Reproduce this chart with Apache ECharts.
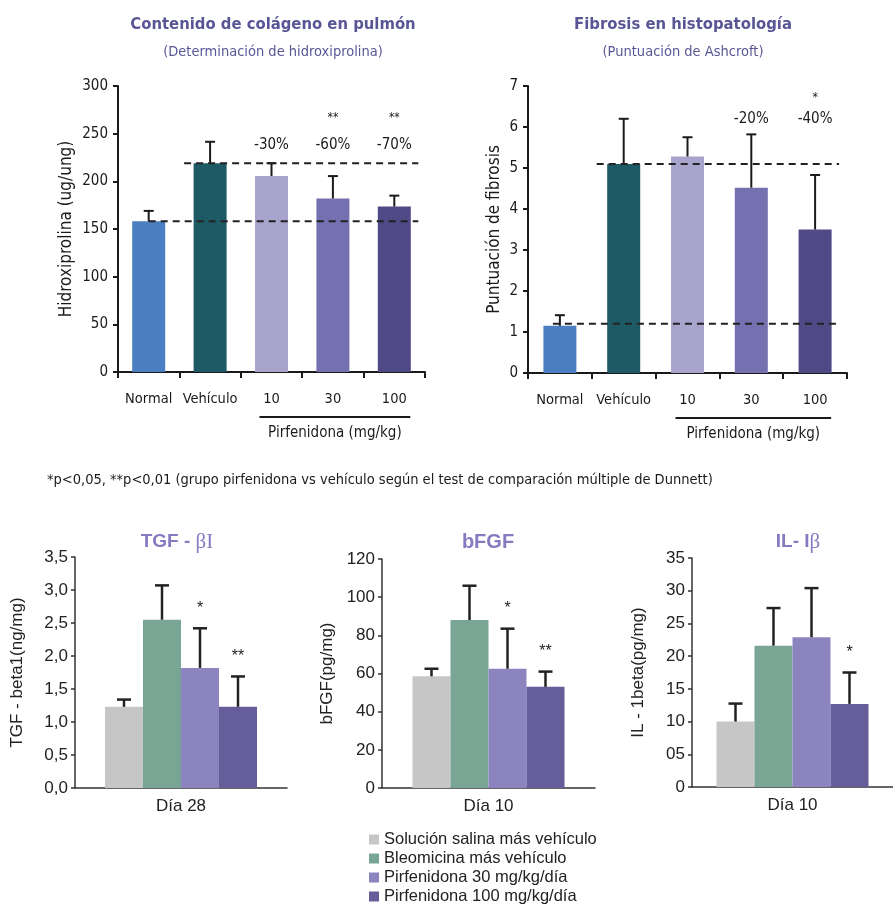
<!DOCTYPE html>
<html><head><meta charset="utf-8">
<script src="https://cdn.jsdelivr.net/npm/echarts@6/dist/echarts.min.js"></script>
<style>html,body{margin:0;padding:0;background:#fff}#c{width:893px;height:904px}</style>
</head><body><div id="c"></div>
<script>
// ---------- data ----------
const topCats = ['Normal', 'Vehículo', '10', '30', '100'];
const topColors = ['#4a7fc2', '#1e5966', '#a8a4cc', '#7570b0', '#4f4a86'];
const pirfLabel = 'Pirfenidona (mg/kg)';

const collagenMean = [158, 219, 205.5, 182, 173.5];
const collagenErrTop = [169, 241.5, 219, 205.5, 185];
const collagenPct = ['', '', '-30%', '-60%', '-70%'];
const collagenSig = ['', '', '', '**', '**'];
const collagenRef = [219, 158];

const ashMean = [1.15, 5.1, 5.28, 4.52, 3.5];
const ashErrTop = [1.41, 6.2, 5.75, 5.82, 4.83];
const ashPct = ['', '', '', '-20%', '-40%'];
const ashSig = ['', '', '', '', '*'];
const ashRef = [5.1, 1.2];

const groupNames = ['Solución salina más vehículo', 'Bleomicina más vehículo', 'Pirfenidona 30 mg/kg/día', 'Pirfenidona 100 mg/kg/día'];
const groupColors = ['#c6c6c6', '#79a595', '#8b84bf', '#655e9b'];

const tgfCat = ['Día 28'];
const tgfMean = [1.23, 2.55, 1.82, 1.23];
const tgfErrTop = [1.34, 3.07, 2.42, 1.69];
const tgfSig = ['', '', '*', '**'];
const tgfTicks = ['0,0', '0,5', '1,0', '1,5', '2,0', '2,5', '3,0', '3,5'];

const bfgfCat = ['Día 10'];
const bfgfMean = [58.5, 88, 62.5, 53];
const bfgfErrTop = [62.5, 106, 83.5, 61];
const bfgfSig = ['', '', '*', '**'];
const bfgfTicks = ['0', '20', '40', '60', '80', '100', '120'];

const ilCat = ['Día 10'];
const ilMean = [10, 21.6, 22.9, 12.7];
const ilErrTop = [12.75, 27.35, 30.4, 17.5];
const ilSig = ['', '', '', '*'];
const ilTicks = ['0', '05', '10', '15', '20', '25', '30', '35'];

const footnote = '*p<0,05, **p<0,01 (grupo pirfenidona vs vehículo según el test de comparación múltiple de Dunnett)';

// ---------- styling ----------
const FN = '"DejaVu Sans Condensed", "Liberation Sans", sans-serif';
const FS = '"Liberation Sans", Arial, sans-serif';
const TOPTITLE = '#5a5696';
const BOTTITLE = '#847bc0';
const INK = '#1a1a1a';

const chart = echarts.init(document.getElementById('c'), null, {renderer: 'canvas'});

const grids = [
  {left: 118, top: 86, width: 307, height: 286},
  {left: 528, top: 86, width: 319, height: 287},
  {left: 75, top: 557, width: 212, height: 231},
  {left: 382, top: 559, width: 213, height: 229},
  {left: 692, top: 558, width: 201, height: 229}
];

function topX(gi) {
  return {type: 'category', gridIndex: gi, data: topCats,
    axisLine: {lineStyle: {color: INK, width: 2}},
    axisTick: {show: true, length: 6, lineStyle: {color: INK, width: 2}},
    axisLabel: {fontFamily: FN, fontSize: 14.5, color: INK, margin: 20, interval: 0}};
}
function topY(gi, max, interval, name, gap) {
  return {type: 'value', gridIndex: gi, min: 0, max: max, interval: interval,
    name: name, nameLocation: 'middle', nameGap: gap,
    nameTextStyle: {fontFamily: FN, fontSize: 17, color: INK},
    axisLine: {show: true, lineStyle: {color: INK, width: 2}},
    axisTick: {show: true, length: 5, lineStyle: {color: INK, width: 2}},
    splitLine: {show: false},
    axisLabel: {fontFamily: FN, fontSize: 15, color: INK, margin: 10}};
}
function botX(gi, cats) {
  return {type: 'category', gridIndex: gi, data: cats,
    axisLine: {lineStyle: {color: '#333', width: 1.5}},
    axisTick: {show: false},
    axisLabel: {fontFamily: FS, fontSize: 17, color: '#222', margin: 10}};
}
function botY(gi, max, interval, name, gap, ticks) {
  return {type: 'value', gridIndex: gi, min: 0, max: max, interval: interval,
    name: name, nameLocation: 'middle', nameGap: gap,
    nameTextStyle: {fontFamily: FS, fontSize: 17, color: '#222'},
    axisLine: {show: true, lineStyle: {color: '#333', width: 1.5}},
    axisTick: {show: true, length: 4, lineStyle: {color: '#333', width: 1.5}},
    splitLine: {show: false},
    axisLabel: {fontFamily: FS, fontSize: 17, color: '#222', margin: 7,
      formatter: (v) => ticks[Math.round(v / interval)]}};
}

const series = [];

function addTop(gi, mean, errTop, pct, sig, refs, refStart, pctLevel, sigOffset) {
  series.push({type: 'bar', name: 'top' + gi, xAxisIndex: gi, yAxisIndex: gi, barWidth: 33,
    data: mean.map((v, i) => ({value: v, itemStyle: {color: topColors[i]}}))});
  series.push({type: 'custom', name: 'err' + gi, xAxisIndex: gi, yAxisIndex: gi, z: 3,
    data: mean.map((v, i) => [i, v, errTop[i]]),
    encode: {x: 0, y: [1, 2]},
    renderItem: (p, api) => {
      const i = api.value(0);
      const a = api.coord([i, api.value(1)]);
      const b = api.coord([i, api.value(2)]);
      const st = {stroke: INK, lineWidth: 2};
      return {type: 'group', children: [
        {type: 'line', shape: {x1: a[0], y1: a[1], x2: b[0], y2: b[1]}, style: st},
        {type: 'line', shape: {x1: b[0] - 5, y1: b[1], x2: b[0] + 5, y2: b[1]}, style: st}
      ]};
    }});
  series.push({type: 'custom', name: 'ref' + gi, xAxisIndex: gi, yAxisIndex: gi, z: 4,
    data: refs.map((v, k) => [k === 0 ? 1 : 0, v]),
    encode: {x: 0, y: 1},
    renderItem: (p, api) => {
      const a = api.coord([api.value(0), api.value(1)]);
      const e = api.coord([topCats.length - 1, api.value(1)]);
      return {type: 'line', shape: {x1: a[0] + refStart[p.dataIndex], y1: a[1], x2: e[0] + 24, y2: a[1]},
        style: {stroke: '#222', lineWidth: 2, lineDash: [7, 5]}};
    }});
  series.push({type: 'custom', name: 'ann' + gi, xAxisIndex: gi, yAxisIndex: gi, z: 5,
    data: mean.map((v, i) => [i, pctLevel]),
    encode: {x: 0, y: 1},
    renderItem: (p, api) => {
      const c = api.coord([api.value(0), api.value(1)]);
      return {type: 'group', children: [
        {type: 'text', style: {text: pct[p.dataIndex], x: c[0], y: c[1], align: 'center', verticalAlign: 'middle',
          font: '15px ' + FN, fill: INK}},
        {type: 'text', style: {text: sig[p.dataIndex], x: c[0], y: c[1] - sigOffset, align: 'center', verticalAlign: 'middle',
          font: '12px ' + FN, fill: INK}}
      ]};
    }});
  series.push({type: 'custom', name: 'brk' + gi, xAxisIndex: gi, yAxisIndex: gi, z: 5,
    data: [[3, 0]], encode: {x: 0, y: 1},
    renderItem: (p, api) => {
      const s = api.coord([2, 0]);
      const m = api.coord([3, 0]);
      const e = api.coord([4, 0]);
      return {type: 'group', children: [
        {type: 'line', shape: {x1: s[0] - 12, y1: s[1] + 45, x2: e[0] + 16, y2: s[1] + 45}, style: {stroke: INK, lineWidth: 2}},
        {type: 'text', style: {text: pirfLabel, x: m[0] + 2, y: m[1] + 61, align: 'center', verticalAlign: 'middle',
          font: '15px ' + FN, fill: INK}}
      ]};
    }});
}

function addBottom(gi, mean, errTop, sig) {
  mean.forEach((v, k) => {
    series.push({type: 'bar', name: groupNames[k], xAxisIndex: gi, yAxisIndex: gi, barWidth: 38, barGap: '0%',
      itemStyle: {color: groupColors[k]}, data: [v]});
  });
  series.push({type: 'custom', name: 'berr' + gi, xAxisIndex: gi, yAxisIndex: gi, z: 3,
    data: mean.map((v, k) => [0, v, errTop[k], k]),
    encode: {x: 0, y: [1, 2]},
    renderItem: (p, api) => {
      const k = api.value(3);
      const a = api.coord([0, api.value(1)]);
      const b = api.coord([0, api.value(2)]);
      const x = a[0] + (k - 1.5) * 38;
      const st = {stroke: '#222', lineWidth: 2.5};
      return {type: 'group', children: [
        {type: 'line', shape: {x1: x, y1: a[1], x2: x, y2: b[1]}, style: st},
        {type: 'line', shape: {x1: x - 7, y1: b[1], x2: x + 7, y2: b[1]}, style: st},
        {type: 'text', style: {text: sig[p.dataIndex], x: x, y: b[1] - 20, align: 'center', verticalAlign: 'middle',
          font: '16px ' + FS, fill: '#222'}}
      ]};
    }});
}

addTop(0, collagenMean, collagenErrTop, collagenPct, collagenSig, collagenRef, [-26, 0], 238, 27);
addTop(1, ashMean, ashErrTop, ashPct, ashSig, ashRef, [-27, -7], 6.2, 21);
addBottom(2, tgfMean, tgfErrTop, tgfSig);
addBottom(3, bfgfMean, bfgfErrTop, bfgfSig);
addBottom(4, ilMean, ilErrTop, ilSig);

const option = {
  animation: false,
  backgroundColor: '#ffffff',
  grid: grids,
  xAxis: [topX(0), topX(1), botX(2, tgfCat), botX(3, bfgfCat), botX(4, ilCat)],
  yAxis: [
    topY(0, 300, 50, 'Hidroxiprolina (ug/ung)', 43),
    topY(1, 7, 1, 'Puntuación de fibrosis', 25),
    botY(2, 3.5, 0.5, 'TGF - beta1(ng/mg)', 49, tgfTicks),
    botY(3, 120, 20, 'bFGF(pg/mg)', 46, bfgfTicks),
    botY(4, 35, 5, 'IL - 1beta(pg/mg)', 45, ilTicks)
  ],
  legend: {
    data: groupNames, orient: 'vertical', left: 369, top: 831, height: 200, padding: 0, icon: 'rect',
    itemWidth: 10, itemHeight: 10, itemGap: 2, selectedMode: false,
    textStyle: {fontFamily: FS, fontSize: 16.5, color: '#222', lineHeight: 16}
  },
  graphic: [
    {type: 'text', x: 273, y: 25, style: {text: 'Contenido de colágeno en pulmón', align: 'center', verticalAlign: 'middle',
      font: 'bold 16.5px ' + FN, fill: TOPTITLE}},
    {type: 'text', x: 273, y: 52, style: {text: '(Determinación de hidroxiprolina)', align: 'center', verticalAlign: 'middle',
      font: '14.5px ' + FN, fill: TOPTITLE}},
    {type: 'text', x: 683, y: 25, style: {text: 'Fibrosis en histopatología', align: 'center', verticalAlign: 'middle',
      font: 'bold 16.5px ' + FN, fill: TOPTITLE}},
    {type: 'text', x: 683, y: 52, style: {text: '(Puntuación de Ashcroft)', align: 'center', verticalAlign: 'middle',
      font: '14.5px ' + FN, fill: TOPTITLE}},
    {type: 'text', x: 47, y: 480, style: {text: footnote, align: 'left', verticalAlign: 'middle',
      font: '14.5px ' + FN, fill: INK}},
    {type: 'text', x: 177, y: 542, style: {text: '{a|TGF - }{b|βI}', align: 'center', verticalAlign: 'middle',
      rich: {a: {fontFamily: FS, fontWeight: 'bold', fontSize: 19, fill: BOTTITLE},
             b: {fontFamily: '"Liberation Serif", serif', fontSize: 21, fill: BOTTITLE}}}},
    {type: 'text', x: 488, y: 542, style: {text: 'bFGF', align: 'center', verticalAlign: 'middle',
      font: 'bold 20px ' + FS, fill: BOTTITLE}},
    {type: 'text', x: 798, y: 542, style: {text: '{a|IL- I}{b|β}', align: 'center', verticalAlign: 'middle',
      rich: {a: {fontFamily: FS, fontWeight: 'bold', fontSize: 19, fill: BOTTITLE},
             b: {fontFamily: '"Liberation Serif", serif', fontSize: 21, fill: BOTTITLE}}}}
  ],
  series: series
};
chart.setOption(option);
</script></body></html>
